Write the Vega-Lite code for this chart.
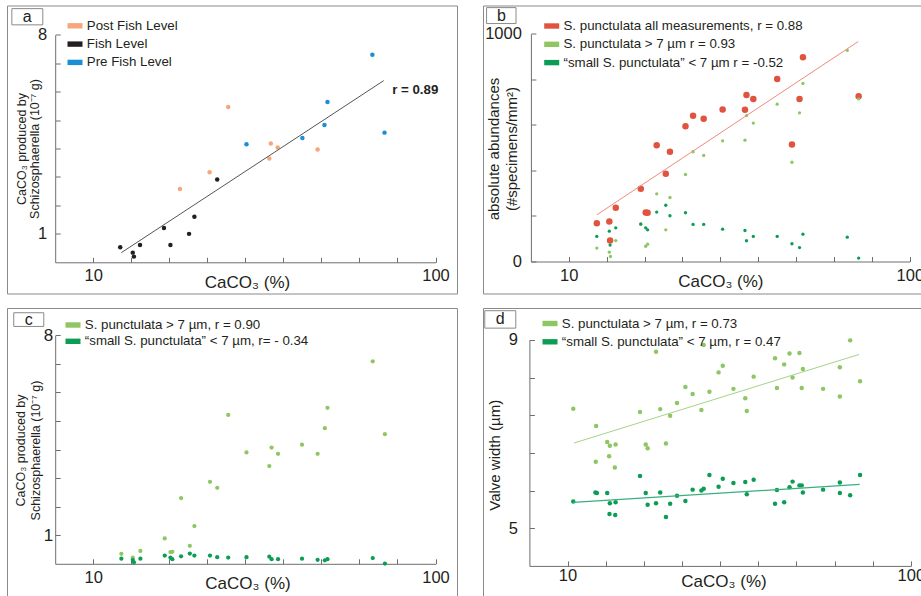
{
  "$schema": "https://vega.github.io/schema/vega-lite/v6.json",
  "padding": {"left": 6, "top": 4.5, "right": 0, "bottom": 0},
  "background": "white",
  "config": {
    "font": "Liberation Sans",
    "view": {"stroke": "#8a8a8a", "strokeWidth": 1},
    "axis": {"grid": false, "domainColor": "#6e6e6e", "tickColor": "#6e6e6e", "tickSize": -5, "labelFontSize": 16.5, "labelColor": "#231f20", "titleColor": "#231f20", "labelFlush": false, "labelOverlap": false, "titleFontWeight": "normal", "labelFont": "Liberation Sans", "titleFont": "Liberation Sans"},
    "legend": {"labelFontSize": 13.3, "labelColor": "#231f20", "labelOffset": 4.3, "rowPadding": 4.3, "padding": 0, "symbolStrokeWidth": 0, "labelFont": "Liberation Sans", "labelLimit": 0}
  },
  "resolve": {"scale": {"color": "independent", "size": "independent"}, "legend": {"color": "independent", "size": "independent"}},
  "spacing": 12.5,
  "vconcat": [
    {
      "spacing": 24,
      "resolve": {"scale": {"color": "independent", "size": "independent"}, "legend": {"color": "independent", "size": "independent"}},
      "hconcat": [
        {
          "width": 450, "height": 288,
          "encoding": {
            "x": {"field": "x", "type": "quantitative", "scale": {"domain": [0, 100], "range": [48.2, 428.5], "zero": false, "nice": false},
              "axis": {"values": [10, 20, 30, 40, 50, 60, 70, 80, 90, 100], "labelExpr": "datum.value == 10 || datum.value == 100 ? datum.label : ''", "offset": -31.2, "labelPadding": 9.8, "title": "CaCO₃ (%)", "titleFontSize": 17, "titleX": 240, "titleY": 25.6, "titleBaseline": "alphabetic"}},
            "y": {"field": "y", "type": "quantitative", "scale": {"domain": [0, 8], "range": [256.8, 29.3], "zero": false, "nice": false},
              "axis": {"values": [1, 2, 3, 4, 5, 6, 7, 8], "labelExpr": "datum.value == 1 || datum.value == 8 ? datum.label : ''", "offset": -48.2, "labelPadding": 13.5, "title": ["CaCO₃ produced by", "Schizosphaerella (10⁻⁷ g)"], "titleFontSize": 12.5, "titleLineHeight": 13.5, "titleAngle": -90, "titleX": -34, "titleY": 143, "titleBaseline": "middle", "titleAlign": "center"}}
          },
          "layer": [
            {
              "data": {"values": [
                {"x": 32.8, "y": 2.58, "g": "Post Fish Level"},
                {"x": 40.6, "y": 3.17, "g": "Post Fish Level"},
                {"x": 45.5, "y": 5.46, "g": "Post Fish Level"},
                {"x": 56.7, "y": 4.18, "g": "Post Fish Level"},
                {"x": 58.5, "y": 4.04, "g": "Post Fish Level"},
                {"x": 56.3, "y": 3.65, "g": "Post Fish Level"},
                {"x": 69.0, "y": 3.97, "g": "Post Fish Level"},
                {"x": 17.1, "y": 0.53, "g": "Fish Level"},
                {"x": 20.4, "y": 0.34, "g": "Fish Level"},
                {"x": 20.7, "y": 0.20, "g": "Fish Level"},
                {"x": 22.3, "y": 0.61, "g": "Fish Level"},
                {"x": 28.6, "y": 1.21, "g": "Fish Level"},
                {"x": 30.3, "y": 0.61, "g": "Fish Level"},
                {"x": 35.2, "y": 1.0, "g": "Fish Level"},
                {"x": 36.6, "y": 1.60, "g": "Fish Level"},
                {"x": 42.6, "y": 2.91, "g": "Fish Level"},
                {"x": 50.3, "y": 4.15, "g": "Pre Fish Level"},
                {"x": 65.0, "y": 4.37, "g": "Pre Fish Level"},
                {"x": 70.8, "y": 4.83, "g": "Pre Fish Level"},
                {"x": 71.6, "y": 5.64, "g": "Pre Fish Level"},
                {"x": 83.4, "y": 7.30, "g": "Pre Fish Level"},
                {"x": 86.6, "y": 4.56, "g": "Pre Fish Level"}
              ]},
              "mark": {"type": "circle", "size": 20, "opacity": 1},
              "encoding": {
                "color": {"field": "g", "type": "nominal", "scale": {"domain": ["Post Fish Level", "Fish Level", "Pre Fish Level"], "range": ["#f6a57d", "#231f20", "#1b8ed6"]},
                  "legend": {"title": null, "orient": "none", "legendX": 60.5, "legendY": 12.8, "symbolType": "M-1,-0.36L1,-0.36L1,0.36L-1,0.36Z", "symbolSize": 225, "symbolOpacity": 1}}
              }
            },
            {
              "data": {"values": [{"x": 17.4, "y": 0.34}, {"x": 86.4, "y": 6.39}]},
              "mark": {"type": "line", "color": "#555555", "strokeWidth": 1}
            },
            {
              "data": {"values": [{"x": 88.6, "y": 6.07, "t": "r = 0.89"}]},
              "mark": {"type": "text", "align": "left", "baseline": "middle", "fontWeight": "bold", "fontSize": 13.3, "color": "#231f20"},
              "encoding": {"text": {"field": "t"}}
            },
            {
              "data": {"values": [{"x": -11.4, "x2": -3.26, "y": 8.92, "y2": 8.35}]},
              "mark": {"type": "rect", "filled": false, "stroke": "#8a8a8a", "strokeWidth": 1},
              "encoding": {"x2": {"field": "x2"}, "y2": {"field": "y2"}}
            },
            {
              "data": {"values": [{"x": -7.33, "y": 8.64, "t": "a"}]},
              "mark": {"type": "text", "align": "center", "baseline": "middle", "fontSize": 16, "color": "#231f20"},
              "encoding": {"text": {"field": "t"}}
            }
          ]
        },
        {
          "width": 450, "height": 288,
          "encoding": {
            "x": {"field": "x", "type": "quantitative", "scale": {"domain": [0, 100], "range": [47.9, 426.8], "zero": false, "nice": false},
              "axis": {"values": [10, 20, 30, 40, 50, 60, 70, 80, 90, 100], "labelExpr": "datum.value == 10 || datum.value == 100 ? datum.label : ''", "offset": -32, "labelPadding": 11, "title": "CaCO₃ (%)", "titleFontSize": 17, "titleX": 237.3, "titleY": 25, "titleBaseline": "alphabetic"}},
            "y": {"field": "y", "type": "quantitative", "scale": {"domain": [0, 1000], "range": [256, 28.3], "zero": false, "nice": false},
              "axis": {"values": [0, 200, 400, 600, 800, 1000], "labelExpr": "datum.value == 0 || datum.value == 1000 ? '' + datum.value : ''", "offset": -47.9, "labelPadding": 14.5, "title": ["absolute abundances", "(#specimens/mm²)"], "titleFontSize": 15, "titleLineHeight": 17.7, "titleAngle": -90, "titleX": -37.5, "titleY": 143, "titleBaseline": "middle", "titleAlign": "center"}}
          },
          "layer": [
            {
              "data": {"values": [
                {"x": 17.4, "y": 168, "s": "S. punctulata all measurements, r = 0.88"},
                {"x": 20.7, "y": 176, "s": "S. punctulata all measurements, r = 0.88"},
                {"x": 20.9, "y": 92, "s": "S. punctulata all measurements, r = 0.88"},
                {"x": 22.4, "y": 236, "s": "S. punctulata all measurements, r = 0.88"},
                {"x": 29.0, "y": 319, "s": "S. punctulata all measurements, r = 0.88"},
                {"x": 30.3, "y": 215, "s": "S. punctulata all measurements, r = 0.88"},
                {"x": 30.8, "y": 214, "s": "S. punctulata all measurements, r = 0.88"},
                {"x": 33.2, "y": 511, "s": "S. punctulata all measurements, r = 0.88"},
                {"x": 35.6, "y": 385, "s": "S. punctulata all measurements, r = 0.88"},
                {"x": 36.7, "y": 482, "s": "S. punctulata all measurements, r = 0.88"},
                {"x": 40.8, "y": 594, "s": "S. punctulata all measurements, r = 0.88"},
                {"x": 42.8, "y": 640, "s": "S. punctulata all measurements, r = 0.88"},
                {"x": 45.6, "y": 627, "s": "S. punctulata all measurements, r = 0.88"},
                {"x": 50.6, "y": 668, "s": "S. punctulata all measurements, r = 0.88"},
                {"x": 56.5, "y": 666, "s": "S. punctulata all measurements, r = 0.88"},
                {"x": 56.9, "y": 731, "s": "S. punctulata all measurements, r = 0.88"},
                {"x": 58.7, "y": 714, "s": "S. punctulata all measurements, r = 0.88"},
                {"x": 65.0, "y": 801, "s": "S. punctulata all measurements, r = 0.88"},
                {"x": 68.9, "y": 514, "s": "S. punctulata all measurements, r = 0.88"},
                {"x": 70.9, "y": 714, "s": "S. punctulata all measurements, r = 0.88"},
                {"x": 71.8, "y": 897, "s": "S. punctulata all measurements, r = 0.88"},
                {"x": 86.5, "y": 726, "s": "S. punctulata all measurements, r = 0.88"}
              ]},
              "mark": {"type": "circle", "size": 42, "opacity": 1},
              "encoding": {
                "color": {"field": "s", "type": "nominal", "scale": {"domain": ["S. punctulata all measurements, r = 0.88", "S. punctulata > 7 µm r = 0.93", "“small S. punctulata” < 7 µm r = -0.52"], "range": ["#e0533f", "#8dc663", "#0b9d54"]},
                  "legend": {"title": null, "orient": "none", "legendX": 61.2, "legendY": 13, "symbolType": "M-1,-0.36L1,-0.36L1,0.36L-1,0.36Z", "symbolSize": 225, "symbolOpacity": 1}}
              }
            },
            {
              "data": {"values": [
                {"x": 17.4, "y": 59, "s": "S. punctulata > 7 µm r = 0.93"},
                {"x": 20.7, "y": 41, "s": "S. punctulata > 7 µm r = 0.93"},
                {"x": 21.0, "y": 22, "s": "S. punctulata > 7 µm r = 0.93"},
                {"x": 22.4, "y": 92, "s": "S. punctulata > 7 µm r = 0.93"},
                {"x": 29.0, "y": 163, "s": "S. punctulata > 7 µm r = 0.93"},
                {"x": 30.3, "y": 67, "s": "S. punctulata > 7 µm r = 0.93"},
                {"x": 30.8, "y": 76, "s": "S. punctulata > 7 µm r = 0.93"},
                {"x": 33.2, "y": 297, "s": "S. punctulata > 7 µm r = 0.93"},
                {"x": 35.6, "y": 139, "s": "S. punctulata > 7 µm r = 0.93"},
                {"x": 36.7, "y": 281, "s": "S. punctulata > 7 µm r = 0.93"},
                {"x": 40.8, "y": 382, "s": "S. punctulata > 7 µm r = 0.93"},
                {"x": 42.8, "y": 482, "s": "S. punctulata > 7 µm r = 0.93"},
                {"x": 45.6, "y": 466, "s": "S. punctulata > 7 µm r = 0.93"},
                {"x": 50.6, "y": 530, "s": "S. punctulata > 7 µm r = 0.93"},
                {"x": 56.5, "y": 533, "s": "S. punctulata > 7 µm r = 0.93"},
                {"x": 56.9, "y": 641, "s": "S. punctulata > 7 µm r = 0.93"},
                {"x": 58.7, "y": 608, "s": "S. punctulata > 7 µm r = 0.93"},
                {"x": 65.0, "y": 691, "s": "S. punctulata > 7 µm r = 0.93"},
                {"x": 68.9, "y": 436, "s": "S. punctulata > 7 µm r = 0.93"},
                {"x": 70.9, "y": 653, "s": "S. punctulata > 7 µm r = 0.93"},
                {"x": 71.8, "y": 782, "s": "S. punctulata > 7 µm r = 0.93"},
                {"x": 83.5, "y": 927, "s": "S. punctulata > 7 µm r = 0.93"},
                {"x": 86.5, "y": 714, "s": "S. punctulata > 7 µm r = 0.93"},
                {"x": 17.4, "y": 110, "s": "“small S. punctulata” < 7 µm r = -0.52"},
                {"x": 20.7, "y": 133, "s": "“small S. punctulata” < 7 µm r = -0.52"},
                {"x": 20.9, "y": 72, "s": "“small S. punctulata” < 7 µm r = -0.52"},
                {"x": 22.4, "y": 148, "s": "“small S. punctulata” < 7 µm r = -0.52"},
                {"x": 29.0, "y": 165, "s": "“small S. punctulata” < 7 µm r = -0.52"},
                {"x": 30.3, "y": 148, "s": "“small S. punctulata” < 7 µm r = -0.52"},
                {"x": 30.8, "y": 139, "s": "“small S. punctulata” < 7 µm r = -0.52"},
                {"x": 33.2, "y": 217, "s": "“small S. punctulata” < 7 µm r = -0.52"},
                {"x": 35.6, "y": 247, "s": "“small S. punctulata” < 7 µm r = -0.52"},
                {"x": 36.7, "y": 201, "s": "“small S. punctulata” < 7 µm r = -0.52"},
                {"x": 40.8, "y": 214, "s": "“small S. punctulata” < 7 µm r = -0.52"},
                {"x": 42.8, "y": 163, "s": "“small S. punctulata” < 7 µm r = -0.52"},
                {"x": 45.6, "y": 163, "s": "“small S. punctulata” < 7 µm r = -0.52"},
                {"x": 50.6, "y": 142, "s": "“small S. punctulata” < 7 µm r = -0.52"},
                {"x": 56.5, "y": 136, "s": "“small S. punctulata” < 7 µm r = -0.52"},
                {"x": 56.9, "y": 91, "s": "“small S. punctulata” < 7 µm r = -0.52"},
                {"x": 58.7, "y": 110, "s": "“small S. punctulata” < 7 µm r = -0.52"},
                {"x": 65.0, "y": 110, "s": "“small S. punctulata” < 7 µm r = -0.52"},
                {"x": 68.9, "y": 78, "s": "“small S. punctulata” < 7 µm r = -0.52"},
                {"x": 70.9, "y": 61, "s": "“small S. punctulata” < 7 µm r = -0.52"},
                {"x": 71.8, "y": 120, "s": "“small S. punctulata” < 7 µm r = -0.52"},
                {"x": 83.5, "y": 107, "s": "“small S. punctulata” < 7 µm r = -0.52"},
                {"x": 86.5, "y": 15, "s": "“small S. punctulata” < 7 µm r = -0.52"}
              ]},
              "mark": {"type": "circle", "size": 11, "opacity": 1},
              "encoding": {
                "color": {"field": "s", "type": "nominal"}
              }
            },
            {
              "data": {"values": [{"x": 17.4, "y": 205}, {"x": 86.4, "y": 966}]},
              "mark": {"type": "line", "color": "#ee8a7c", "strokeWidth": 1}
            },
            {
              "data": {"values": [{"x": -11.7, "x2": -3.93, "y": 1115, "y2": 1045}]},
              "mark": {"type": "rect", "filled": false, "stroke": "#8a8a8a", "strokeWidth": 1},
              "encoding": {"x2": {"field": "x2"}, "y2": {"field": "y2"}}
            },
            {
              "data": {"values": [{"x": -7.8, "y": 1080, "t": "b"}]},
              "mark": {"type": "text", "align": "center", "baseline": "middle", "fontSize": 16, "color": "#231f20"},
              "encoding": {"text": {"field": "t"}}
            }
          ]
        }
      ]
    },
    {
      "spacing": 24,
      "resolve": {"scale": {"color": "independent", "size": "independent"}, "legend": {"color": "independent", "size": "independent"}},
      "hconcat": [
        {
          "width": 450, "height": 288,
          "encoding": {
            "x": {"field": "x", "type": "quantitative", "scale": {"domain": [0, 100], "range": [48.2, 428.5], "zero": false, "nice": false},
              "axis": {"values": [10, 20, 30, 40, 50, 60, 70, 80, 90, 100], "labelExpr": "datum.value == 10 || datum.value == 100 ? datum.label : ''", "offset": -32.2, "labelPadding": 10.8, "title": "CaCO₃ (%)", "titleFontSize": 17, "titleX": 240.5, "titleY": 25, "titleBaseline": "alphabetic"}},
            "y": {"field": "y", "type": "quantitative", "scale": {"domain": [0, 8], "range": [255.8, 27.3], "zero": false, "nice": false},
              "axis": {"values": [1, 2, 3, 4, 5, 6, 7, 8], "labelExpr": "datum.value == 1 || datum.value == 8 ? datum.label : ''", "offset": -48.2, "labelPadding": 7.5, "labelFontSize": 17, "title": ["CaCO₃ produced by", "Schizosphaerella (10⁻⁷ g)"], "titleFontSize": 12.5, "titleLineHeight": 15, "titleAngle": -90, "titleX": -35, "titleY": 142, "titleBaseline": "middle", "titleAlign": "center"}}
          },
          "layer": [
            {
              "data": {"values": [
                {"x": 17.4, "y": 0.35, "s": "S. punctulata  > 7 µm, r = 0.90"},
                {"x": 20.4, "y": 0.22, "s": "S. punctulata  > 7 µm, r = 0.90"},
                {"x": 22.4, "y": 0.45, "s": "S. punctulata  > 7 µm, r = 0.90"},
                {"x": 28.8, "y": 0.89, "s": "S. punctulata  > 7 µm, r = 0.90"},
                {"x": 30.3, "y": 0.41, "s": "S. punctulata  > 7 µm, r = 0.90"},
                {"x": 30.8, "y": 0.42, "s": "S. punctulata  > 7 µm, r = 0.90"},
                {"x": 33.1, "y": 2.30, "s": "S. punctulata  > 7 µm, r = 0.90"},
                {"x": 35.4, "y": 0.63, "s": "S. punctulata  > 7 µm, r = 0.90"},
                {"x": 36.6, "y": 1.32, "s": "S. punctulata  > 7 µm, r = 0.90"},
                {"x": 40.7, "y": 2.87, "s": "S. punctulata  > 7 µm, r = 0.90"},
                {"x": 42.6, "y": 2.66, "s": "S. punctulata  > 7 µm, r = 0.90"},
                {"x": 45.5, "y": 5.21, "s": "S. punctulata  > 7 µm, r = 0.90"},
                {"x": 50.3, "y": 3.90, "s": "S. punctulata  > 7 µm, r = 0.90"},
                {"x": 56.3, "y": 3.42, "s": "S. punctulata  > 7 µm, r = 0.90"},
                {"x": 56.9, "y": 4.07, "s": "S. punctulata  > 7 µm, r = 0.90"},
                {"x": 58.6, "y": 3.85, "s": "S. punctulata  > 7 µm, r = 0.90"},
                {"x": 64.9, "y": 4.17, "s": "S. punctulata  > 7 µm, r = 0.90"},
                {"x": 69.0, "y": 3.85, "s": "S. punctulata  > 7 µm, r = 0.90"},
                {"x": 70.9, "y": 4.75, "s": "S. punctulata  > 7 µm, r = 0.90"},
                {"x": 71.6, "y": 5.46, "s": "S. punctulata  > 7 µm, r = 0.90"},
                {"x": 83.5, "y": 7.09, "s": "S. punctulata  > 7 µm, r = 0.90"},
                {"x": 86.7, "y": 4.54, "s": "S. punctulata  > 7 µm, r = 0.90"},
                {"x": 17.4, "y": 0.18, "s": "“small S. punctulata”  < 7 µm, r= - 0.34"},
                {"x": 20.4, "y": 0.13, "s": "“small S. punctulata”  < 7 µm, r= - 0.34"},
                {"x": 20.7, "y": 0.05, "s": "“small S. punctulata”  < 7 µm, r= - 0.34"},
                {"x": 22.4, "y": 0.18, "s": "“small S. punctulata”  < 7 µm, r= - 0.34"},
                {"x": 28.8, "y": 0.29, "s": "“small S. punctulata”  < 7 µm, r= - 0.34"},
                {"x": 30.3, "y": 0.22, "s": "“small S. punctulata”  < 7 µm, r= - 0.34"},
                {"x": 30.8, "y": 0.16, "s": "“small S. punctulata”  < 7 µm, r= - 0.34"},
                {"x": 33.1, "y": 0.26, "s": "“small S. punctulata”  < 7 µm, r= - 0.34"},
                {"x": 35.4, "y": 0.36, "s": "“small S. punctulata”  < 7 µm, r= - 0.34"},
                {"x": 36.6, "y": 0.29, "s": "“small S. punctulata”  < 7 µm, r= - 0.34"},
                {"x": 40.7, "y": 0.29, "s": "“small S. punctulata”  < 7 µm, r= - 0.34"},
                {"x": 42.6, "y": 0.23, "s": "“small S. punctulata”  < 7 µm, r= - 0.34"},
                {"x": 45.5, "y": 0.22, "s": "“small S. punctulata”  < 7 µm, r= - 0.34"},
                {"x": 50.3, "y": 0.23, "s": "“small S. punctulata”  < 7 µm, r= - 0.34"},
                {"x": 56.3, "y": 0.25, "s": "“small S. punctulata”  < 7 µm, r= - 0.34"},
                {"x": 56.9, "y": 0.16, "s": "“small S. punctulata”  < 7 µm, r= - 0.34"},
                {"x": 58.6, "y": 0.16, "s": "“small S. punctulata”  < 7 µm, r= - 0.34"},
                {"x": 64.9, "y": 0.18, "s": "“small S. punctulata”  < 7 µm, r= - 0.34"},
                {"x": 69.0, "y": 0.14, "s": "“small S. punctulata”  < 7 µm, r= - 0.34"},
                {"x": 70.9, "y": 0.12, "s": "“small S. punctulata”  < 7 µm, r= - 0.34"},
                {"x": 71.6, "y": 0.16, "s": "“small S. punctulata”  < 7 µm, r= - 0.34"},
                {"x": 83.5, "y": 0.20, "s": "“small S. punctulata”  < 7 µm, r= - 0.34"},
                {"x": 86.7, "y": 0.01, "s": "“small S. punctulata”  < 7 µm, r= - 0.34"}
              ]},
              "mark": {"type": "circle", "size": 18, "opacity": 1},
              "encoding": {
                "color": {"field": "s", "type": "nominal", "scale": {"domain": ["S. punctulata  > 7 µm, r = 0.90", "“small S. punctulata”  < 7 µm, r= - 0.34"], "range": ["#8dc663", "#0b9d54"]},
                  "legend": {"title": null, "orient": "none", "legendX": 58.5, "legendY": 9.5, "symbolType": "M-1,-0.36L1,-0.36L1,0.36L-1,0.36Z", "symbolSize": 225, "symbolOpacity": 1, "rowPadding": 2.3}}
              }
            },
            {
              "data": {"values": [{"x": -10.9, "x2": -3.0, "y": 8.79, "y2": 8.31}]},
              "mark": {"type": "rect", "filled": false, "stroke": "#8a8a8a", "strokeWidth": 1},
              "encoding": {"x2": {"field": "x2"}, "y2": {"field": "y2"}}
            },
            {
              "data": {"values": [{"x": -6.95, "y": 8.55, "t": "c"}]},
              "mark": {"type": "text", "align": "center", "baseline": "middle", "fontSize": 16, "color": "#231f20"},
              "encoding": {"text": {"field": "t"}}
            }
          ]
        },
        {
          "width": 450, "height": 288,
          "encoding": {
            "x": {"field": "x", "type": "quantitative", "scale": {"domain": [0, 100], "range": [46.4, 427.8], "zero": false, "nice": false},
              "axis": {"values": [10, 20, 30, 40, 50, 60, 70, 80, 90, 100], "labelExpr": "datum.value == 10 || datum.value == 100 ? datum.label : ''", "offset": -30.1, "labelPadding": 7, "title": "CaCO₃ (%)", "titleFontSize": 17, "titleX": 240.5, "titleY": 21, "titleBaseline": "alphabetic"}},
            "y": {"field": "y", "type": "quantitative", "scale": {"domain": [4.2, 9], "range": [257.9, 31.9], "zero": false, "nice": false},
              "axis": {"values": [5, 5.8, 6.6, 7.4, 8.2, 9], "labelExpr": "datum.value == 5 || datum.value == 9 ? '' + datum.value : ''", "offset": -46.4, "labelPadding": 17, "title": "Valve width (µm)", "titleFontSize": 15, "titleAngle": -90, "titleX": -35, "titleY": 146.8, "titleBaseline": "middle", "titleAlign": "center"}}
          },
          "layer": [
            {
              "data": {"values": [
                {"x": 11.5, "y": 7.54, "s": "S. punctulata > 7 µm, r = 0.73"},
                {"x": 17.5, "y": 7.17, "s": "S. punctulata > 7 µm, r = 0.73"},
                {"x": 17.4, "y": 6.41, "s": "S. punctulata > 7 µm, r = 0.73"},
                {"x": 20.4, "y": 6.83, "s": "S. punctulata > 7 µm, r = 0.73"},
                {"x": 21.1, "y": 6.75, "s": "S. punctulata > 7 µm, r = 0.73"},
                {"x": 20.9, "y": 6.53, "s": "S. punctulata > 7 µm, r = 0.73"},
                {"x": 22.6, "y": 6.78, "s": "S. punctulata > 7 µm, r = 0.73"},
                {"x": 22.4, "y": 6.29, "s": "S. punctulata > 7 µm, r = 0.73"},
                {"x": 29.0, "y": 7.47, "s": "S. punctulata > 7 µm, r = 0.73"},
                {"x": 30.5, "y": 6.78, "s": "S. punctulata > 7 µm, r = 0.73"},
                {"x": 31.0, "y": 6.70, "s": "S. punctulata > 7 µm, r = 0.73"},
                {"x": 33.2, "y": 8.75, "s": "S. punctulata > 7 µm, r = 0.73"},
                {"x": 34.3, "y": 7.53, "s": "S. punctulata > 7 µm, r = 0.73"},
                {"x": 35.8, "y": 6.80, "s": "S. punctulata > 7 µm, r = 0.73"},
                {"x": 36.9, "y": 7.39, "s": "S. punctulata > 7 µm, r = 0.73"},
                {"x": 38.7, "y": 7.66, "s": "S. punctulata > 7 µm, r = 0.73"},
                {"x": 40.9, "y": 8.00, "s": "S. punctulata > 7 µm, r = 0.73"},
                {"x": 42.8, "y": 7.85, "s": "S. punctulata > 7 µm, r = 0.73"},
                {"x": 45.1, "y": 7.51, "s": "S. punctulata > 7 µm, r = 0.73"},
                {"x": 45.7, "y": 8.89, "s": "S. punctulata > 7 µm, r = 0.73"},
                {"x": 47.2, "y": 7.90, "s": "S. punctulata > 7 µm, r = 0.73"},
                {"x": 49.6, "y": 8.31, "s": "S. punctulata > 7 µm, r = 0.73"},
                {"x": 50.7, "y": 8.45, "s": "S. punctulata > 7 µm, r = 0.73"},
                {"x": 53.5, "y": 7.96, "s": "S. punctulata > 7 µm, r = 0.73"},
                {"x": 56.6, "y": 7.76, "s": "S. punctulata > 7 µm, r = 0.73"},
                {"x": 57.0, "y": 7.49, "s": "S. punctulata > 7 µm, r = 0.73"},
                {"x": 58.8, "y": 8.22, "s": "S. punctulata > 7 µm, r = 0.73"},
                {"x": 64.4, "y": 8.61, "s": "S. punctulata > 7 µm, r = 0.73"},
                {"x": 64.9, "y": 7.98, "s": "S. punctulata > 7 µm, r = 0.73"},
                {"x": 66.8, "y": 8.48, "s": "S. punctulata > 7 µm, r = 0.73"},
                {"x": 68.2, "y": 8.71, "s": "S. punctulata > 7 µm, r = 0.73"},
                {"x": 69.0, "y": 8.20, "s": "S. punctulata > 7 µm, r = 0.73"},
                {"x": 70.8, "y": 8.72, "s": "S. punctulata > 7 µm, r = 0.73"},
                {"x": 71.4, "y": 7.98, "s": "S. punctulata > 7 µm, r = 0.73"},
                {"x": 71.7, "y": 8.38, "s": "S. punctulata > 7 µm, r = 0.73"},
                {"x": 77.0, "y": 7.96, "s": "S. punctulata > 7 µm, r = 0.73"},
                {"x": 81.4, "y": 8.42, "s": "S. punctulata > 7 µm, r = 0.73"},
                {"x": 81.4, "y": 7.80, "s": "S. punctulata > 7 µm, r = 0.73"},
                {"x": 84.1, "y": 8.99, "s": "S. punctulata > 7 µm, r = 0.73"},
                {"x": 86.7, "y": 8.12, "s": "S. punctulata > 7 µm, r = 0.73"},
                {"x": 11.5, "y": 5.57, "s": "“small S. punctulata” < 7 µm, r = 0.47"},
                {"x": 17.3, "y": 5.76, "s": "“small S. punctulata” < 7 µm, r = 0.47"},
                {"x": 17.7, "y": 5.75, "s": "“small S. punctulata” < 7 µm, r = 0.47"},
                {"x": 20.4, "y": 5.75, "s": "“small S. punctulata” < 7 µm, r = 0.47"},
                {"x": 21.0, "y": 5.30, "s": "“small S. punctulata” < 7 µm, r = 0.47"},
                {"x": 21.1, "y": 5.53, "s": "“small S. punctulata” < 7 µm, r = 0.47"},
                {"x": 22.5, "y": 5.28, "s": "“small S. punctulata” < 7 µm, r = 0.47"},
                {"x": 22.6, "y": 5.55, "s": "“small S. punctulata” < 7 µm, r = 0.47"},
                {"x": 29.0, "y": 6.11, "s": "“small S. punctulata” < 7 µm, r = 0.47"},
                {"x": 30.5, "y": 5.75, "s": "“small S. punctulata” < 7 µm, r = 0.47"},
                {"x": 31.0, "y": 5.50, "s": "“small S. punctulata” < 7 µm, r = 0.47"},
                {"x": 33.2, "y": 5.53, "s": "“small S. punctulata” < 7 µm, r = 0.47"},
                {"x": 34.3, "y": 5.76, "s": "“small S. punctulata” < 7 µm, r = 0.47"},
                {"x": 35.8, "y": 5.24, "s": "“small S. punctulata” < 7 µm, r = 0.47"},
                {"x": 36.9, "y": 5.52, "s": "“small S. punctulata” < 7 µm, r = 0.47"},
                {"x": 38.7, "y": 5.69, "s": "“small S. punctulata” < 7 µm, r = 0.47"},
                {"x": 40.9, "y": 5.58, "s": "“small S. punctulata” < 7 µm, r = 0.47"},
                {"x": 42.8, "y": 5.82, "s": "“small S. punctulata” < 7 µm, r = 0.47"},
                {"x": 45.1, "y": 5.80, "s": "“small S. punctulata” < 7 µm, r = 0.47"},
                {"x": 45.7, "y": 5.84, "s": "“small S. punctulata” < 7 µm, r = 0.47"},
                {"x": 47.2, "y": 6.13, "s": "“small S. punctulata” < 7 µm, r = 0.47"},
                {"x": 49.6, "y": 5.88, "s": "“small S. punctulata” < 7 µm, r = 0.47"},
                {"x": 50.7, "y": 6.05, "s": "“small S. punctulata” < 7 µm, r = 0.47"},
                {"x": 53.5, "y": 5.96, "s": "“small S. punctulata” < 7 µm, r = 0.47"},
                {"x": 56.6, "y": 5.98, "s": "“small S. punctulata” < 7 µm, r = 0.47"},
                {"x": 57.0, "y": 5.72, "s": "“small S. punctulata” < 7 µm, r = 0.47"},
                {"x": 58.8, "y": 6.03, "s": "“small S. punctulata” < 7 µm, r = 0.47"},
                {"x": 64.4, "y": 5.52, "s": "“small S. punctulata” < 7 µm, r = 0.47"},
                {"x": 64.9, "y": 5.81, "s": "“small S. punctulata” < 7 µm, r = 0.47"},
                {"x": 66.8, "y": 5.55, "s": "“small S. punctulata” < 7 µm, r = 0.47"},
                {"x": 68.2, "y": 5.87, "s": "“small S. punctulata” < 7 µm, r = 0.47"},
                {"x": 69.0, "y": 5.99, "s": "“small S. punctulata” < 7 µm, r = 0.47"},
                {"x": 70.8, "y": 5.91, "s": "“small S. punctulata” < 7 µm, r = 0.47"},
                {"x": 71.4, "y": 5.91, "s": "“small S. punctulata” < 7 µm, r = 0.47"},
                {"x": 71.7, "y": 5.76, "s": "“small S. punctulata” < 7 µm, r = 0.47"},
                {"x": 77.0, "y": 5.82, "s": "“small S. punctulata” < 7 µm, r = 0.47"},
                {"x": 81.4, "y": 5.97, "s": "“small S. punctulata” < 7 µm, r = 0.47"},
                {"x": 81.4, "y": 5.75, "s": "“small S. punctulata” < 7 µm, r = 0.47"},
                {"x": 84.1, "y": 5.70, "s": "“small S. punctulata” < 7 µm, r = 0.47"},
                {"x": 86.7, "y": 6.13, "s": "“small S. punctulata” < 7 µm, r = 0.47"}
              ]},
              "mark": {"type": "circle", "size": 20, "opacity": 1},
              "encoding": {
                "color": {"field": "s", "type": "nominal", "scale": {"domain": ["S. punctulata > 7 µm, r = 0.73", "“small S. punctulata” < 7 µm, r = 0.47"], "range": ["#8dc663", "#0b9d54"]},
                  "legend": {"title": null, "orient": "none", "legendX": 59.5, "legendY": 8, "symbolType": "M-1,-0.36L1,-0.36L1,0.36L-1,0.36Z", "symbolSize": 225, "symbolOpacity": 1}}
              }
            },
            {
              "data": {"values": [{"x": 11.7, "y": 6.81}, {"x": 86.4, "y": 8.69}]},
              "mark": {"type": "line", "color": "#a4d487", "strokeWidth": 1}
            },
            {
              "data": {"values": [{"x": 11.5, "y": 5.55}, {"x": 86.6, "y": 5.93}]},
              "mark": {"type": "line", "color": "#37b07e", "strokeWidth": 1.2}
            },
            {
              "data": {"values": [{"x": -11.7, "x2": -3.57, "y": 9.62, "y2": 9.25}]},
              "mark": {"type": "rect", "filled": false, "stroke": "#8a8a8a", "strokeWidth": 1},
              "encoding": {"x2": {"field": "x2"}, "y2": {"field": "y2"}}
            },
            {
              "data": {"values": [{"x": -7.63, "y": 9.44, "t": "d"}]},
              "mark": {"type": "text", "align": "center", "baseline": "middle", "fontSize": 16, "color": "#231f20"},
              "encoding": {"text": {"field": "t"}}
            }
          ]
        }
      ]
    }
  ]
}
